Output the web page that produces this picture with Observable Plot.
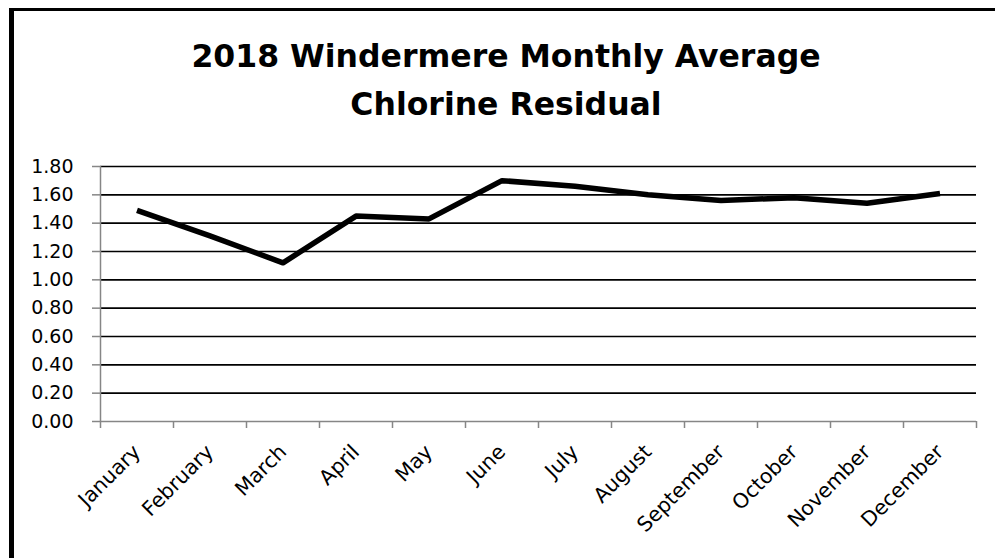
<!DOCTYPE html>
<html>
<head>
<meta charset="utf-8">
<script src="https://cdn.jsdelivr.net/npm/d3@7"></script>
<script src="https://cdn.jsdelivr.net/npm/@observablehq/plot@0.6"></script>
<style>
  html, body { margin: 0; padding: 0; background: #fff; overflow: hidden; width: 995px; height: 558px; }
  #frame { position: absolute; left: 9px; top: 8px; width: 1200px; height: 800px; border-left: 5px solid #000; border-top: 3px solid #000; box-sizing: border-box; }
  .title { position: absolute; left: 0; width: 1012px; text-align: center; font-family: "DejaVu Sans", sans-serif; font-weight: bold; font-size: 31.5px; color: #000; white-space: nowrap; line-height: 1; }
  #chart { position: absolute; left: 0; top: 0; }
</style>
</head>
<body>
<div id="frame"></div>
<div class="title" style="top:41px">2018 Windermere Monthly Average</div>
<div class="title" style="top:89px">Chlorine Residual</div>
<div id="chart"></div>
<script>
const months = ["January","February","March","April","May","June","July","August","September","October","November","December"];
const values = [1.49, 1.31, 1.12, 1.45, 1.43, 1.70, 1.66, 1.60, 1.56, 1.58, 1.54, 1.61];
const yTicks = [0, 0.2, 0.4, 0.6, 0.8, 1.0, 1.2, 1.4, 1.6, 1.8];

const data = months.map((m, i) => ({month: m, idx: i + 0.5, value: values[i]}));
const bounds = d3.range(months.length + 1);
const labelPos = months.map((m, i) => i + 0.5);

const plot = Plot.plot({
  width: 995,
  height: 558,
  marginLeft: 100,
  marginRight: 19,
  marginTop: 166,
  marginBottom: 137,
  style: {fontFamily: "DejaVu Sans, sans-serif", background: "transparent", color: "#000"},
  x: {type: "linear", domain: [0, months.length], axis: null, label: null},
  y: {domain: [0, 1.8], axis: null, label: null},
  marks: [
    Plot.ruleY(yTicks.filter(v => v > 0), {stroke: "#000", strokeWidth: 1.6}),
    Plot.axisY(yTicks, {label: null, tickSize: 8, tickPadding: 19, tickFormat: d => d.toFixed(2), fontSize: 19, stroke: "#868686", strokeWidth: 1.5, color: "#000"}),
    Plot.axisX(bounds, {label: null, tickSize: 7, tickFormat: () => "", stroke: "#868686", strokeWidth: 1.5}),
    Plot.axisX(labelPos, {label: null, tickSize: 0, tickPadding: 27, tickRotate: -45, fontSize: 20.5, tickFormat: d => months[Math.round(d - 0.5)]}),
    Plot.ruleX([0], {stroke: "#868686", strokeWidth: 1.5}),
    Plot.ruleY([0], {stroke: "#868686", strokeWidth: 1.5}),
    Plot.line(data, {x: "idx", y: "value", stroke: "#000", strokeWidth: 5.5, strokeLinejoin: "round", strokeLinecap: "butt"})
  ]
});
document.getElementById("chart").appendChild(plot);
</script>
</body>
</html>
